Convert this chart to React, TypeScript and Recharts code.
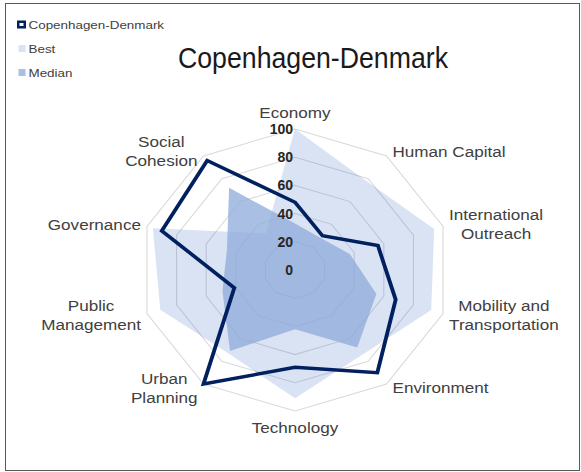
import React from "react";
import { Legend, PolarAngleAxis, PolarGrid, PolarRadiusAxis, Radar, RadarChart } from "recharts";

const categories = [
  "Economy",
  "Human Capital",
  "International Outreach",
  "Mobility and Transportation",
  "Environment",
  "Technology",
  "Urban Planning",
  "Public Management",
  "Governance",
  "Social Cohesion",
];
const copenhagen = [48, 30, 56, 68, 90, 69, 100, 41, 90, 96];
const best = [100, 78, 94, 92, 74, 91, 73, 91, 96, 32];
const median = [33, 28, 37, 55, 68, 42, 71, 49, 46, 72];
const radiusTicks = [0, 20, 40, 60, 80, 100];

// how the axis names wrap in the original
const labelLines: Record<string, string[]> = {
  "International Outreach": ["International", "Outreach"],
  "Mobility and Transportation": ["Mobility and", "Transportation"],
  "Urban Planning": ["Urban", "Planning"],
  "Public Management": ["Public", "Management"],
  "Social Cohesion": ["Social", "Cohesion"],
};

const data = categories.map((c, i) => ({
  category: c,
  copenhagen: copenhagen[i],
  best: best[i],
  median: median[i],
}));

const W = 581;
const H = 472;
const K = 1.104; // the plot in the original is wider than it is tall
const CX = 295 / K;
const CY = 270;
const R = 141;
const FONT = '"Liberation Sans", Arial, sans-serif';
const LABEL_STRETCH = 1.14;

let ctx: CanvasRenderingContext2D | null = null;
function measure(text: string, font: string) {
  if (!ctx) ctx = document.createElement("canvas").getContext("2d");
  if (!ctx) return text.length * 7;
  ctx.font = font;
  return ctx.measureText(text).width;
}

function AngleTick(props: any) {
  const { payload } = props;
  const i = categories.indexOf(payload.value);
  const a = ((90 - 36 * i) * Math.PI) / 180;
  const cos = Math.cos(a);
  const sin = Math.sin(a);
  // screen position of the outer ring vertex
  const vx = K * (CX + R * cos);
  const vy = CY - R * sin;
  const lines = labelLines[payload.value] ?? [payload.value];
  const w = Math.max(...lines.map((l) => measure(l, `15px ${FONT}`))) * LABEL_STRETCH;
  let bx = vx;
  let by = vy;
  if (Math.abs(cos) < 0.01) {
    by = vy - Math.sign(sin) * 16.5;
  } else {
    bx = vx + Math.sign(cos) * (6 + w / 2);
    by = vy - 5 * sin;
  }
  const lh = 19;
  const first = by - ((lines.length - 1) * lh) / 2 + 5;
  return (
    <text
      transform={`translate(${bx / K},${first}) scale(${LABEL_STRETCH / K},1)`}
      textAnchor="middle"
      fontSize={15}
      fontFamily={FONT}
      fill="#404040"
    >
      {lines.map((l, j) => (
        <tspan key={j} x={0} y={j * lh}>
          {l}
        </tspan>
      ))}
    </text>
  );
}

function RadiusTick(props: any) {
  const { x, y, payload } = props;
  return (
    <text
      transform={`translate(${x - 2 / K},${y}) scale(${1 / K},1)`}
      textAnchor="end"
      dy="0.36em"
      fontSize={14}
      fontWeight="bold"
      fontFamily={FONT}
      fill="#262626"
    >
      {payload.value}
    </text>
  );
}

const legendItems = [
  { name: "Copenhagen-Denmark", color: "#002060", line: true },
  { name: "Best", color: "#dae3f3", line: false },
  { name: "Median", color: "#aabfe4", line: false },
];

function LegendContent() {
  return (
    <svg width={200} height={90} style={{ overflow: "visible", display: "block" }}>
      <g transform={`scale(${1 / K},1)`}>
        {legendItems.map((it, i) => {
          const my = 24.5 + i * 24;
          return (
            <g key={it.name}>
              {it.line ? (
                <>
                  <rect x={17} y={my - 4} width={9} height={8} fill={it.color} />
                  <rect x={19.5} y={my - 1.5} width={4} height={3} fill="#fff" />
                </>
              ) : (
                <rect x={18.5} y={my - 3.5} width={7} height={7} fill={it.color} />
              )}
              <text
                transform={`translate(28.5,${my + 4}) scale(1.22,1)`}
                fontSize={11}
                fontFamily={FONT}
                fill="#404040"
              >
                {it.name}
              </text>
            </g>
          );
        })}
      </g>
    </svg>
  );
}

export default function App() {
  return (
    <div style={{ position: "absolute", left: 0, top: 0, width: W, height: H, background: "#fff", overflow: "hidden" }}>
      <div style={{ position: "absolute", left: 0, top: 0, transform: `scaleX(${K})`, transformOrigin: "0 0" }}>
        <RadarChart
          width={Math.round(W / K)}
          height={H}
          data={data}
          cx={CX}
          cy={CY}
          outerRadius={R}
          startAngle={90}
          endAngle={-270}
        >
          <PolarGrid gridType="polygon" radialLines={false} stroke="#d9d9d9" />
          <PolarAngleAxis dataKey="category" tick={AngleTick} axisLine={false} tickLine={false} />
          <PolarRadiusAxis
            angle={90}
            domain={[0, 100]}
            ticks={radiusTicks as any}
            tickCount={6}
            axisLine={false}
            tickLine={false}
            tick={RadiusTick}
          />
          <Radar dataKey="best" name="Best" stroke="none" fill="#4472c4" fillOpacity={0.2} dot={false} isAnimationActive={false} />
          <Radar dataKey="median" name="Median" stroke="none" fill="#8eaadb" fillOpacity={0.75} dot={false} isAnimationActive={false} />
          <Radar
            dataKey="copenhagen"
            name="Copenhagen-Denmark"
            stroke="#002060"
            strokeWidth={3.5}
            strokeLinejoin="miter"
            fill="none"
            fillOpacity={0}
            dot={false}
            isAnimationActive={false}
          />
          <Legend
            layout="vertical"
            align="left"
            verticalAlign="top"
            content={LegendContent}
            wrapperStyle={{ left: 0, top: 0, width: 200, height: 90 }}
          />
        </RadarChart>
      </div>
      <svg width={W} height={H} style={{ position: "absolute", left: 0, top: 0, pointerEvents: "none" }}>
        <rect x={5.5} y={3.5} width={574} height={467} fill="none" stroke="#595959" strokeWidth={1} />
        <text x={313} y={68} textAnchor="middle" fontSize={29} fontFamily={FONT} fill="#1a1a1a" textLength={270} lengthAdjust="spacingAndGlyphs">
          Copenhagen-Denmark
        </text>
      </svg>
    </div>
  );
}
